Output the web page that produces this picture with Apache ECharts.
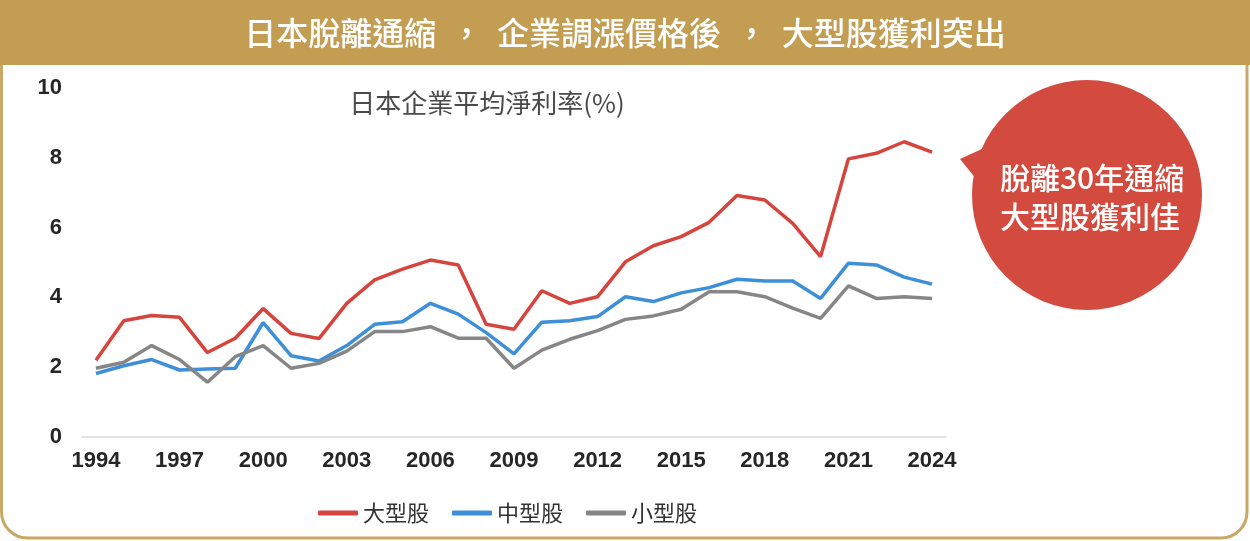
<!DOCTYPE html>
<html>
<head>
<meta charset="utf-8">
<script src="https://cdn.jsdelivr.net/npm/echarts@6/dist/echarts.min.js"></script>
<style>
html,body{margin:0;padding:0;background:#ffffff;}
#chart{width:1250px;height:541px;}
</style>
</head>
<body>
<div id="chart"></div>
<script>
const years = ['1994','1995','1996','1997','1998','1999','2000','2001','2002','2003','2004','2005','2006','2007','2008','2009','2010','2011','2012','2013','2014','2015','2016','2017','2018','2019','2020','2021','2022','2023','2024'];
const largeCap = [2.2,3.33,3.48,3.43,2.42,2.83,3.68,2.97,2.82,3.83,4.5,4.81,5.07,4.93,3.23,3.09,4.19,3.83,4.02,5.02,5.48,5.74,6.15,6.92,6.79,6.12,5.17,7.97,8.13,8.46,8.16];
const midCap = [1.82,2.04,2.22,1.92,1.95,1.97,3.28,2.33,2.18,2.62,3.23,3.3,3.83,3.52,2.99,2.38,3.29,3.33,3.45,4.02,3.88,4.13,4.28,4.52,4.47,4.47,3.97,4.98,4.93,4.58,4.38];
const smallCap = [1.97,2.14,2.62,2.22,1.57,2.3,2.62,1.97,2.11,2.46,3.02,3.02,3.16,2.83,2.83,1.97,2.49,2.8,3.05,3.37,3.47,3.66,4.16,4.16,4.02,3.69,3.4,4.33,3.97,4.02,3.97];
const seriesNames = ['大型股','中型股','小型股'];
const yTicks = [0,2,4,6,8,10];

const titleText = '日本脫離通縮  ，  企業調漲價格後  ，  大型股獲利突出';
const subtitleText = '日本企業平均淨利率(%)';
const calloutText = '脫離30年通縮\n大型股獲利佳';

const GOLD = '#C39D51';
const RED = '#D6453D';
const BLUE = '#3D8FD8';
const GRAY = '#868686';
const CJK = '"Noto Sans CJK TC", "Noto Sans CJK SC", sans-serif';
const NUM = '"Liberation Sans", Arial, sans-serif';

const chart = echarts.init(document.getElementById('chart'), null, {renderer:'canvas'});
chart.setOption({
  backgroundColor: '#ffffff',
  animation: false,
  color: [RED, BLUE, GRAY],
  graphic: [
    {type:'rect', z:0, shape:{x:1.5, y:2, width:1245.5, height:536, r:[0,0,26,26]},
     style:{fill:'#ffffff', stroke:'#C9A766', lineWidth:3}},
    {type:'rect', z:1, shape:{x:0, y:0, width:1250, height:65},
     style:{fill:GOLD}},
    {type:'text', z:2, x:625, y:33,
     style:{text:titleText, fill:'#ffffff', font:'500 32px ' + CJK, align:'center', verticalAlign:'middle'}},
    {type:'text', z:2, x:487, y:103,
     style:{text:subtitleText, fill:'#4a4a4a', font:'400 26px ' + CJK, align:'center', verticalAlign:'middle'}},
    {type:'polygon', z:3, shape:{points:[[960,159],[995,143],[985,190]]},
     style:{fill:'#D34A3F'}},
    {type:'circle', z:3, shape:{cx:1087, cy:195, r:115},
     style:{fill:'#D34A3F'}},
    {type:'text', z:4, x:1000, y:197,
     style:{text:calloutText, fill:'#ffffff', font:'500 30px ' + CJK, align:'left', verticalAlign:'middle', lineHeight:39}}
  ],
  legend: {
    data: seriesNames.map(n => ({name:n, icon:'roundRect'})),
    left: 313, top: 497,
    itemWidth: 40, itemHeight: 5, itemGap: 23,
    textStyle: {color:'#333333', fontSize:22, fontFamily:CJK}
  },
  grid: {left:82, right:304, top:88, bottom:104, containLabel:false},
  xAxis: {
    type:'category', data:years, boundaryGap:true,
    axisLine:{show:true, lineStyle:{color:'#D9D9D9', width:1.5}},
    axisTick:{show:false},
    axisLabel:{interval:2, color:'#262626', fontSize:22, fontWeight:'bold', fontFamily:NUM, margin:13}
  },
  yAxis: {
    type:'value', min:yTicks[0], max:yTicks[yTicks.length-1], interval:2,
    axisLine:{show:false}, axisTick:{show:false},
    splitLine:{show:false},
    axisLabel:{color:'#262626', fontSize:22, fontWeight:'bold', fontFamily:NUM, margin:20}
  },
  series: [
    {name:seriesNames[0], type:'line', data:largeCap, symbol:'none', lineStyle:{width:3.5, color:RED}, itemStyle:{color:RED}},
    {name:seriesNames[1], type:'line', data:midCap, symbol:'none', lineStyle:{width:3.5, color:BLUE}, itemStyle:{color:BLUE}},
    {name:seriesNames[2], type:'line', data:smallCap, symbol:'none', lineStyle:{width:3.5, color:GRAY}, itemStyle:{color:GRAY}}
  ]
});
</script>
</body>
</html>
